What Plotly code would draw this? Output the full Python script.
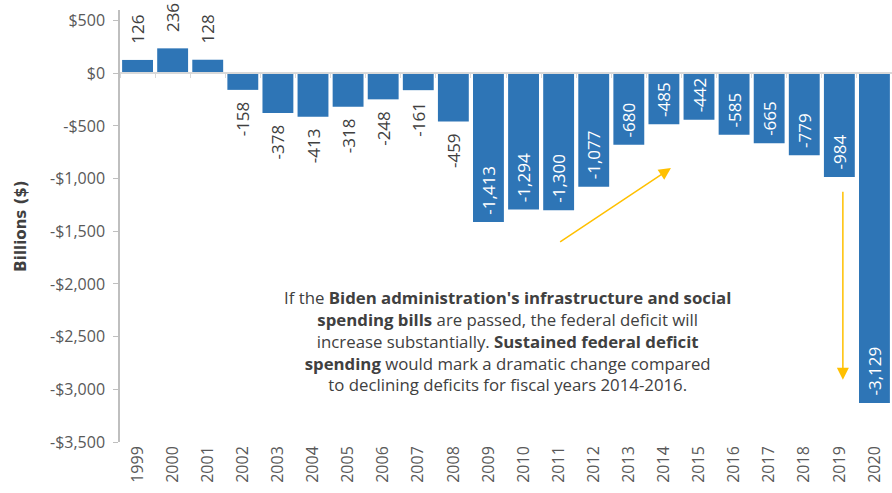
import plotly.graph_objects as go

years = [str(y) for y in range(1999, 2021)]
deficits = [126, 236, 128, -158, -378, -413, -318, -248, -161, -459,
            -1413, -1294, -1300, -1077, -680, -485, -442, -585, -665, -779, -984, -3129]
label_pos = ["outside"] * 10 + ["inside"] * 12
ytick_vals = [500, 0, -500, -1000, -1500, -2000, -2500, -3000, -3500]
ytick_text = ["$500", "$0", "-$500", "-$1,000", "-$1,500", "-$2,000", "-$2,500", "-$3,000", "-$3,500"]

BAR = "#2E75B6"
TXT = "#404040"
GRAY = "#595959"
FONT = "Open Sans"
NB = "\u00a0"

def fmt(v, pos):
    s = f"{v:,}"
    if pos == "inside":
        return NB + s
    if v >= 0:
        return NB * 3 + s
    return s + NB * 2

fig = go.Figure()
fig.add_trace(go.Bar(
    x=years, y=deficits,
    text=[fmt(v, p) for v, p in zip(deficits, label_pos)], textposition=label_pos,
    insidetextanchor="end", textangle=-90, cliponaxis=False, constraintext="none",
    insidetextfont=dict(family=FONT, size=17, color="white"),
    outsidetextfont=dict(family=FONT, size=17, color=TXT),
    marker=dict(color=BAR, line=dict(width=0)), showlegend=False,
    hoverinfo="x+y"))

# invisible trace for the zero-line axis with boundary ticks
fig.add_trace(go.Scatter(x=years, y=deficits, xaxis="x2", mode="none",
                         showlegend=False, hoverinfo="skip"))

ymin, ymax = -3500, 600
zero_pos = (0 - ymin) / (ymax - ymin)

fig.update_layout(
    width=892, height=493,
    margin=dict(l=120, r=0, t=10, b=51),
    paper_bgcolor="white", plot_bgcolor="white",
    bargap=0.12,
    font=dict(family=FONT, color=GRAY),
    xaxis=dict(type="category", categoryorder="array", categoryarray=years,
               range=[-0.5, 21.5], tickangle=-90, showline=False, ticks="",
               showgrid=False, tickfont=dict(family=FONT, size=16, color=GRAY)),
    xaxis2=dict(type="category", categoryorder="array", categoryarray=years,
                overlaying="x", anchor="free", position=zero_pos, side="bottom",
                range=[-0.5, 21.5], showticklabels=False, showline=True,
                linecolor="#d9d9d9", linewidth=1.5, ticks="outside", tickson="boundaries",
                ticklen=4, tickcolor="#d9d9d9", showgrid=False),
    yaxis=dict(range=[ymin, ymax], tickvals=ytick_vals, ticktext=ytick_text,
               showgrid=False, zeroline=False, showline=True, linecolor="#bfbfbf",
               linewidth=1.5, ticks="outside", ticklen=5, tickcolor="#bfbfbf",
               ticklabelstandoff=5,
               tickfont=dict(family=FONT, size=16, color=GRAY),
               title=dict(text="<b>Billions ($)</b>", standoff=20,
                          font=dict(family="DejaVu Sans", size=15, color=TXT))),
)

note = ("If the <b>Biden administration's infrastructure and social</b><br>"
        "<b>spending bills</b> are passed, the federal deficit will<br>"
        "increase substantially. <b>Sustained federal deficit</b><br>"
        "<b>spending</b> would mark a dramatic change compared<br>"
        "to declining deficits for fiscal years 2014-2016.")
fig.add_annotation(x=10.55, y=-2545, xref="x", yref="y", text=note, showarrow=False,
                   align="center", font=dict(family=FONT, size=16.8, color=TXT))

ARROW = "#FFC000"
fig.add_annotation(x=15.2, y=-900, ax=12.0, ay=-1610, xref="x", yref="y",
                   axref="x", ayref="y", text="", showarrow=True, arrowhead=2,
                   arrowsize=1.6, arrowwidth=1.5, arrowcolor=ARROW)
fig.add_annotation(x=20.1, y=-2910, ax=20.1, ay=-1110, xref="x", yref="y",
                   axref="x", ayref="y", text="", showarrow=True, arrowhead=2,
                   arrowsize=1.6, arrowwidth=1.5, arrowcolor=ARROW)

fig.write_html("out.html")
